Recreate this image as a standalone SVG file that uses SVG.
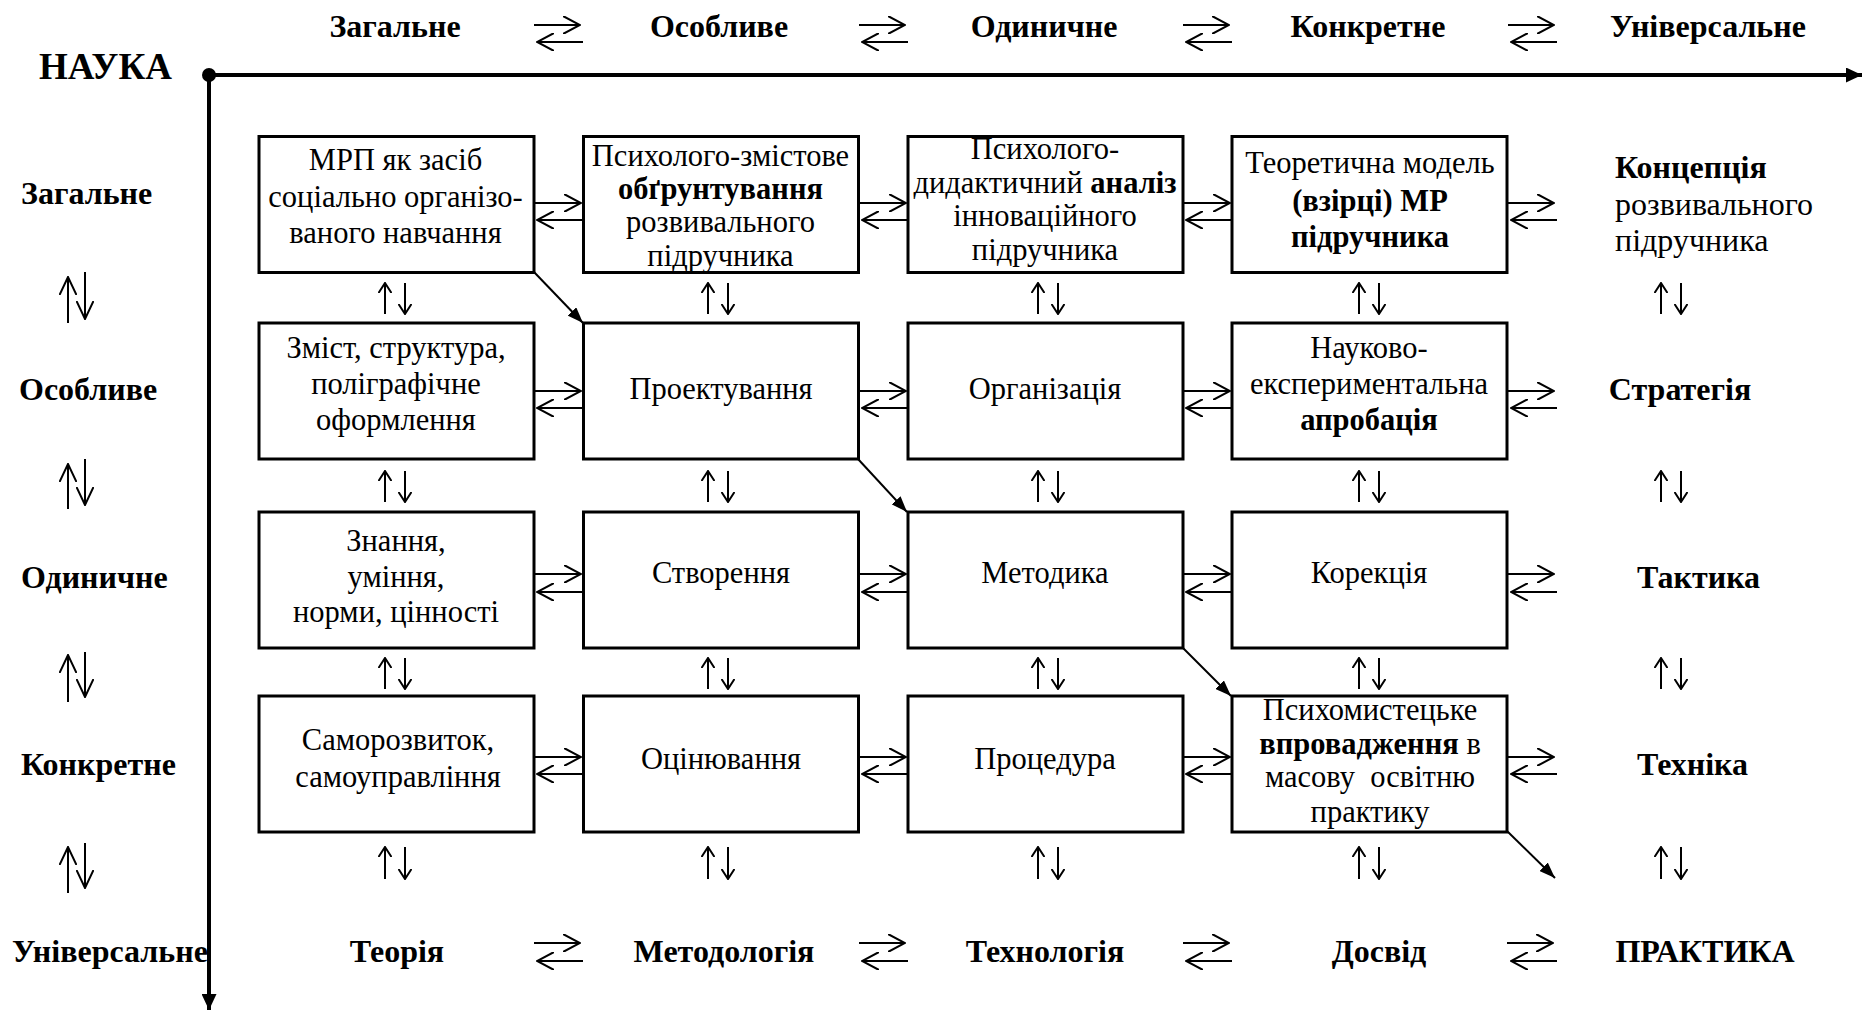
<svg xmlns="http://www.w3.org/2000/svg" width="1863" height="1011" viewBox="0 0 1863 1011">
<style>
.box{fill:#fff;stroke:#000;stroke-width:3}
.t{font-family:"Liberation Serif","Times New Roman",serif;font-size:30.5px;text-anchor:middle;fill:#000}
.b{font-weight:bold}
.lab{font-family:"Liberation Serif","Times New Roman",serif;font-size:32px;font-weight:bold;fill:#000}
.c{text-anchor:middle}
.s{text-anchor:start}
.h{stroke:#000;stroke-width:2;fill:none;marker-end:url(#open)}
.v{stroke:#000;stroke-width:2;fill:none;marker-end:url(#openS)}
.vl{stroke:#000;stroke-width:2;fill:none;marker-end:url(#openL)}
.d{stroke:#000;stroke-width:2;fill:none;marker-end:url(#fill)}
.ax{stroke:#000;stroke-width:4;fill:none;marker-end:url(#axh)}
</style>
<defs>
<marker id="open" viewBox="0 0 18 18" refX="17" refY="9" markerWidth="18" markerHeight="18" markerUnits="userSpaceOnUse" orient="auto">
<path d="M0,0 L17,9 L0,18" fill="none" stroke="#000" stroke-width="2"/>
</marker>
<marker id="openS" viewBox="0 0 11 14" refX="10" refY="7" markerWidth="11" markerHeight="14" markerUnits="userSpaceOnUse" orient="auto">
<path d="M0,0.5 L10,7 L0,13.5" fill="none" stroke="#000" stroke-width="2"/>
</marker>
<marker id="openL" viewBox="0 0 19 18" refX="18" refY="9" markerWidth="19" markerHeight="18" markerUnits="userSpaceOnUse" orient="auto">
<path d="M0,0.5 L18,9 L0,17.5" fill="none" stroke="#000" stroke-width="2"/>
</marker>
<marker id="fill" viewBox="0 0 16 12" refX="16" refY="6" markerWidth="16" markerHeight="12" markerUnits="userSpaceOnUse" orient="auto">
<path d="M0,0 L16,6 L0,12 Z" fill="#000"/>
</marker>
<marker id="axh" viewBox="0 0 16 15" refX="16" refY="7.5" markerWidth="16" markerHeight="15" markerUnits="userSpaceOnUse" orient="auto">
<path d="M0,0 L16,7.5 L0,15 Z" fill="#000"/>
</marker>
</defs>
<rect width="1863" height="1011" fill="#fff"/>

<g id="axes">
<line class="ax" x1="209" y1="75" x2="1862" y2="75"/>
<line class="ax" x1="209" y1="75" x2="209" y2="1010"/>
<circle cx="209" cy="75" r="7" fill="#000"/>
</g>

<g id="labels">
<text class="lab s" x="39" y="79" style="font-size:37px">НАУКА</text>
<text class="lab c" x="395" y="37">Загальне</text>
<text class="lab c" x="719" y="37">Особливе</text>
<text class="lab c" x="1044" y="37">Одиничне</text>
<text class="lab c" x="1368" y="37">Конкретне</text>
<text class="lab c" x="1708" y="37">Універсальне</text>
<text class="lab s" x="21" y="204">Загальне</text>
<text class="lab s" x="19" y="400">Особливе</text>
<text class="lab s" x="21" y="588">Одиничне</text>
<text class="lab s" x="21" y="775">Конкретне</text>
<text class="lab s" x="12" y="962">Універсальне</text>
<text class="lab c" x="397" y="962">Теорія</text>
<text class="lab c" x="724" y="962">Методологія</text>
<text class="lab c" x="1045" y="962">Технологія</text>
<text class="lab c" x="1379" y="962">Досвід</text>
<text class="lab c" x="1705" y="962">ПРАКТИКА</text>
<text class="t" x="1615" y="178" style="text-anchor:start;font-size:32px"><tspan class="b">Концепція</tspan><tspan x="1615" y="214.5">розвивального</tspan><tspan x="1615" y="251">підручника</tspan></text>
<text class="lab c" x="1680" y="400">Стратегія</text>
<text class="lab s" x="1637" y="588">Тактика</text>
<text class="lab s" x="1637" y="775">Техніка</text>
</g>

<g id="connectors">
<line class="h" x1="534" y1="25" x2="580" y2="25"/><line class="h" x1="583" y1="42" x2="537" y2="42"/>
<line class="h" x1="859" y1="25" x2="905" y2="25"/><line class="h" x1="908" y1="42" x2="862" y2="42"/>
<line class="h" x1="1183" y1="25" x2="1229" y2="25"/><line class="h" x1="1232" y1="42" x2="1186" y2="42"/>
<line class="h" x1="1508" y1="25" x2="1554" y2="25"/><line class="h" x1="1557" y1="42" x2="1511" y2="42"/>

<line class="h" x1="534" y1="203" x2="581" y2="203"/><line class="h" x1="583" y1="220" x2="537" y2="220"/>
<line class="h" x1="859" y1="203" x2="906" y2="203"/><line class="h" x1="908" y1="220" x2="862" y2="220"/>
<line class="h" x1="1183" y1="203" x2="1230" y2="203"/><line class="h" x1="1232" y1="220" x2="1186" y2="220"/>
<line class="h" x1="1508" y1="203" x2="1554" y2="203"/><line class="h" x1="1557" y1="220" x2="1511" y2="220"/>

<line class="h" x1="534" y1="391" x2="581" y2="391"/><line class="h" x1="583" y1="408" x2="537" y2="408"/>
<line class="h" x1="859" y1="391" x2="906" y2="391"/><line class="h" x1="908" y1="408" x2="862" y2="408"/>
<line class="h" x1="1183" y1="391" x2="1230" y2="391"/><line class="h" x1="1232" y1="408" x2="1186" y2="408"/>
<line class="h" x1="1508" y1="391" x2="1554" y2="391"/><line class="h" x1="1557" y1="408" x2="1511" y2="408"/>

<line class="h" x1="534" y1="574" x2="581" y2="574"/><line class="h" x1="583" y1="592" x2="537" y2="592"/>
<line class="h" x1="859" y1="574" x2="906" y2="574"/><line class="h" x1="908" y1="592" x2="862" y2="592"/>
<line class="h" x1="1183" y1="574" x2="1230" y2="574"/><line class="h" x1="1232" y1="592" x2="1186" y2="592"/>
<line class="h" x1="1508" y1="574" x2="1554" y2="574"/><line class="h" x1="1557" y1="592" x2="1511" y2="592"/>

<line class="h" x1="534" y1="757" x2="581" y2="757"/><line class="h" x1="583" y1="774" x2="537" y2="774"/>
<line class="h" x1="859" y1="757" x2="906" y2="757"/><line class="h" x1="908" y1="774" x2="862" y2="774"/>
<line class="h" x1="1183" y1="757" x2="1230" y2="757"/><line class="h" x1="1232" y1="774" x2="1186" y2="774"/>
<line class="h" x1="1508" y1="757" x2="1554" y2="757"/><line class="h" x1="1557" y1="774" x2="1511" y2="774"/>

<line class="h" x1="534" y1="943" x2="580" y2="943"/><line class="h" x1="583" y1="961" x2="537" y2="961"/>
<line class="h" x1="859" y1="943" x2="905" y2="943"/><line class="h" x1="908" y1="961" x2="862" y2="961"/>
<line class="h" x1="1183" y1="943" x2="1229" y2="943"/><line class="h" x1="1232" y1="961" x2="1186" y2="961"/>
<line class="h" x1="1507" y1="943" x2="1553" y2="943"/><line class="h" x1="1557" y1="961" x2="1511" y2="961"/>

<g id="vpairs">
<line class="v" x1="385" y1="314" x2="385" y2="283"/><line class="v" x1="405" y1="283" x2="405" y2="314"/>
<line class="v" x1="708" y1="314" x2="708" y2="283"/><line class="v" x1="728" y1="283" x2="728" y2="314"/>
<line class="v" x1="1038" y1="314" x2="1038" y2="283"/><line class="v" x1="1058" y1="283" x2="1058" y2="314"/>
<line class="v" x1="1359" y1="314" x2="1359" y2="283"/><line class="v" x1="1379" y1="283" x2="1379" y2="314"/>
<line class="v" x1="1661" y1="314" x2="1661" y2="283"/><line class="v" x1="1681" y1="283" x2="1681" y2="314"/>

<line class="v" x1="385" y1="502" x2="385" y2="471"/><line class="v" x1="405" y1="471" x2="405" y2="502"/>
<line class="v" x1="708" y1="502" x2="708" y2="471"/><line class="v" x1="728" y1="471" x2="728" y2="502"/>
<line class="v" x1="1038" y1="502" x2="1038" y2="471"/><line class="v" x1="1058" y1="471" x2="1058" y2="502"/>
<line class="v" x1="1359" y1="502" x2="1359" y2="471"/><line class="v" x1="1379" y1="471" x2="1379" y2="502"/>
<line class="v" x1="1661" y1="502" x2="1661" y2="471"/><line class="v" x1="1681" y1="471" x2="1681" y2="502"/>

<line class="v" x1="385" y1="689" x2="385" y2="658"/><line class="v" x1="405" y1="658" x2="405" y2="689"/>
<line class="v" x1="708" y1="689" x2="708" y2="658"/><line class="v" x1="728" y1="658" x2="728" y2="689"/>
<line class="v" x1="1038" y1="689" x2="1038" y2="658"/><line class="v" x1="1058" y1="658" x2="1058" y2="689"/>
<line class="v" x1="1359" y1="689" x2="1359" y2="658"/><line class="v" x1="1379" y1="658" x2="1379" y2="689"/>
<line class="v" x1="1661" y1="689" x2="1661" y2="658"/><line class="v" x1="1681" y1="658" x2="1681" y2="689"/>

<line class="v" x1="385" y1="879" x2="385" y2="847"/><line class="v" x1="405" y1="847" x2="405" y2="879"/>
<line class="v" x1="708" y1="879" x2="708" y2="847"/><line class="v" x1="728" y1="847" x2="728" y2="879"/>
<line class="v" x1="1038" y1="879" x2="1038" y2="847"/><line class="v" x1="1058" y1="847" x2="1058" y2="879"/>
<line class="v" x1="1359" y1="879" x2="1359" y2="847"/><line class="v" x1="1379" y1="847" x2="1379" y2="879"/>
<line class="v" x1="1661" y1="879" x2="1661" y2="847"/><line class="v" x1="1681" y1="847" x2="1681" y2="879"/>
</g>

<g id="lpairs">
<line class="vl" x1="68" y1="323" x2="68" y2="277"/><line class="vl" x1="85" y1="272" x2="85" y2="319"/>
<line class="vl" x1="68" y1="509" x2="68" y2="464"/><line class="vl" x1="85" y1="459" x2="85" y2="505"/>
<line class="vl" x1="68" y1="702" x2="68" y2="655"/><line class="vl" x1="85" y1="652" x2="85" y2="697"/>
<line class="vl" x1="68" y1="893" x2="68" y2="847"/><line class="vl" x1="85" y1="843" x2="85" y2="888"/>
</g>

<line class="d" x1="534" y1="272" x2="583" y2="323"/>
<line class="d" x1="858" y1="459" x2="907" y2="512"/>
<line class="d" x1="1183" y1="648" x2="1231" y2="696"/>
<line class="d" x1="1507" y1="831" x2="1555" y2="878"/>
</g>

<g id="n11"><rect class="box" x="259" y="136.5" width="275" height="136"/>
<text class="t" x="395.5" y="170">МРП як засіб<tspan x="395.5" y="207">соціально організо-</tspan><tspan x="395.5" y="243">ваного навчання</tspan></text></g>
<g id="n12"><rect class="box" x="583.5" y="136.5" width="275" height="136"/>
<text class="t" x="720.5" y="165.5">Психолого-змістове<tspan x="720.5" y="199" class="b">обґрунтування</tspan><tspan x="720.5" y="232">розвивального</tspan><tspan x="720.5" y="266">підручника</tspan></text></g>
<g id="n13"><rect class="box" x="908" y="136.5" width="275" height="136"/>
<text class="t" x="1045" y="159">Психолого-<tspan x="1045" y="192.5">дидактичний <tspan class="b">аналіз</tspan></tspan><tspan x="1045" y="226">інноваційного</tspan><tspan x="1045" y="259.5">підручника</tspan></text></g>
<g id="n14"><rect class="box" x="1232" y="136.5" width="275" height="136"/>
<text class="t" x="1370" y="173">Теоретична модель<tspan x="1370" y="210.5" class="b">(взірці) МР</tspan><tspan x="1370" y="246.5" class="b">підручника</tspan></text></g>

<g id="n21"><rect class="box" x="259" y="323" width="275" height="136"/>
<text class="t" x="396" y="358">Зміст, структура,<tspan x="396" y="394">поліграфічне</tspan><tspan x="396" y="430">оформлення</tspan></text></g>
<g id="n22"><rect class="box" x="583.5" y="323" width="275" height="136"/>
<text class="t" x="721" y="399">Проектування</text></g>
<g id="n23"><rect class="box" x="908" y="323" width="275" height="136"/>
<text class="t" x="1045" y="399">Організація</text></g>
<g id="n24"><rect class="box" x="1232" y="323" width="275" height="136"/>
<text class="t" x="1369" y="358">Науково-<tspan x="1369" y="393.5">експериментальна</tspan><tspan x="1369" y="429.5" class="b">апробація</tspan></text></g>

<g id="n31"><rect class="box" x="259" y="512" width="275" height="136"/>
<text class="t" x="396" y="551">Знання,<tspan x="396" y="587">уміння,</tspan><tspan x="396" y="622">норми, цінності</tspan></text></g>
<g id="n32"><rect class="box" x="583.5" y="512" width="275" height="136"/>
<text class="t" x="721" y="583">Створення</text></g>
<g id="n33"><rect class="box" x="908" y="512" width="275" height="136"/>
<text class="t" x="1045" y="583">Методика</text></g>
<g id="n34"><rect class="box" x="1232" y="512" width="275" height="136"/>
<text class="t" x="1369" y="583">Корекція</text></g>

<g id="n41"><rect class="box" x="259" y="696" width="275" height="136"/>
<text class="t" x="398" y="750">Саморозвиток,<tspan x="398" y="787">самоуправління</tspan></text></g>
<g id="n42"><rect class="box" x="583.5" y="696" width="275" height="136"/>
<text class="t" x="721" y="769">Оцінювання</text></g>
<g id="n43"><rect class="box" x="908" y="696" width="275" height="136"/>
<text class="t" x="1045" y="769">Процедура</text></g>
<g id="n44"><rect class="box" x="1232" y="696" width="275" height="136"/>
<text class="t" x="1370" y="720" style="white-space:pre">Психомистецьке<tspan x="1370" y="753.5"><tspan class="b">впровадження</tspan> в</tspan><tspan x="1370" y="787">масову  освітню</tspan><tspan x="1370" y="821.5">практику</tspan></text></g>
</svg>
